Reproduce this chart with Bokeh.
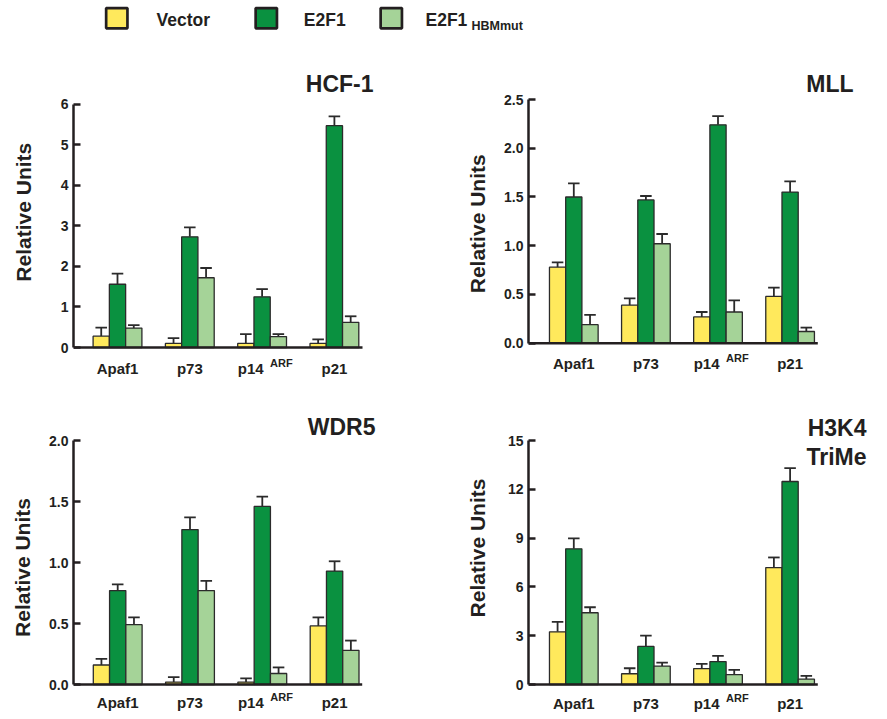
import math
import numpy as np
from bokeh.plotting import figure
from bokeh.models import Range1d, FixedTicker, NumeralTickFormatter, ColumnDataSource, LinearAxis
from bokeh.layouts import column, row
from bokeh.embed import file_html
from bokeh.resources import INLINE
from bokeh.core.properties import value

# ---------------- data ----------------
genes = ["Apaf1", "p73", "p14", "p21"]
gene_sup = ["", "", "ARF", ""]
series = ["Vector", "E2F1", "E2F1"]
series_sub = ["", "", "HBMmut"]

hcf_vector = [0.28, 0.10, 0.10, 0.10]
hcf_vector_err = [0.21, 0.13, 0.23, 0.10]
hcf_e2f1 = [1.56, 2.73, 1.25, 5.47]
hcf_e2f1_err = [0.26, 0.23, 0.19, 0.23]
hcf_mut = [0.48, 1.72, 0.27, 0.62]
hcf_mut_err = [0.07, 0.24, 0.06, 0.15]
hcf_ticks = [0, 1, 2, 3, 4, 5, 6]

mll_vector = [0.78, 0.39, 0.27, 0.48]
mll_vector_err = [0.05, 0.07, 0.05, 0.09]
mll_e2f1 = [1.50, 1.47, 2.24, 1.55]
mll_e2f1_err = [0.14, 0.04, 0.09, 0.11]
mll_mut = [0.19, 1.02, 0.32, 0.12]
mll_mut_err = [0.10, 0.10, 0.12, 0.04]
mll_ticks = [0.0, 0.5, 1.0, 1.5, 2.0, 2.5]

wdr_vector = [0.16, 0.02, 0.02, 0.48]
wdr_vector_err = [0.05, 0.04, 0.03, 0.07]
wdr_e2f1 = [0.77, 1.27, 1.46, 0.93]
wdr_e2f1_err = [0.05, 0.10, 0.08, 0.08]
wdr_mut = [0.49, 0.77, 0.09, 0.28]
wdr_mut_err = [0.06, 0.08, 0.05, 0.08]
wdr_ticks = [0.0, 0.5, 1.0, 1.5, 2.0]

h3k4_vector = [3.24, 0.66, 0.98, 7.19]
h3k4_vector_err = [0.61, 0.34, 0.29, 0.62]
h3k4_e2f1 = [8.34, 2.34, 1.41, 12.48]
h3k4_e2f1_err = [0.64, 0.67, 0.35, 0.82]
h3k4_mut = [4.41, 1.13, 0.61, 0.33]
h3k4_mut_err = [0.34, 0.22, 0.29, 0.20]
h3k4_ticks = [0, 3, 6, 9, 12, 15]

# ---------------- style / layout ----------------
COLORS = ["#FFE95C", "#0A9140", "#A5D398"]
EDGE = "#2b2b2b"
TXT = "#231f20"
FONT = "Liberation Sans"
BAR_W = 0.225
CAP = 0.08
LEG_H = 40
ROW1 = (40, 350)   # top, height
ROW2 = (390, 328)
COL_LAB = [(0, 40), (448, 42)]      # left, width of y-label strips
COL_FIG = [(40, 408), (490, 397)]   # left, width of panel figures


def blank(left, top, w, h):
    f = figure(width=w, height=h, output_backend="svg", toolbar_location=None,
               x_range=Range1d(left, left + w), y_range=Range1d(top + h, top),
               x_axis_type=None, y_axis_type=None,
               min_border_left=0, min_border_right=0, min_border_top=0, min_border_bottom=0)
    f.outline_line_color = None
    f.background_fill_color = None
    f.border_fill_color = None
    return f


def ylabel_fig(left, top, w, h, lx, ly):
    f = blank(left, top, w, h)
    f.text(x=[lx], y=[ly], text=["Relative Units"], angle=math.pi / 2,
           text_align="center", text_baseline="middle", text_font=value(FONT),
           text_font_style="bold", text_font_size="21px", text_color=TXT)
    return f


def panel(col, rowg, geom, title_lines, title_dx, title_dy, vals, errs, ticks, fmt, cat_dy):
    fl, fw = COL_FIG[col]
    ft, fh = rowg
    ax_x, zero_y, top_y, c0, sp, ax_end = geom
    border = int(round(ax_x - fl))
    frame_left = fl + border
    ymax = ticks[-1]
    ppu = (zero_y - top_y) / ymax
    xr = Range1d((frame_left - c0) / sp, (fl + fw - c0) / sp)
    yr = Range1d(-(ft + fh - zero_y) / ppu, (zero_y - ft) / ppu)
    x_line_end = (ax_end - c0) / sp

    p = figure(width=fw, height=fh, output_backend="svg", toolbar_location=None,
               x_range=xr, y_range=yr, x_axis_type=None, y_axis_type=None,
               min_border_left=border, min_border_right=0,
               min_border_top=0, min_border_bottom=0)
    p.outline_line_color = None
    p.background_fill_color = None
    p.border_fill_color = None

    yax = LinearAxis(ticker=FixedTicker(ticks=ticks),
                     formatter=NumeralTickFormatter(format=fmt), bounds=(0, ymax))
    yax.major_tick_in = 7
    yax.major_tick_out = 0
    yax.major_tick_line_width = 2.5
    yax.major_tick_line_color = TXT
    yax.minor_tick_line_color = None
    yax.axis_line_width = 2.5
    yax.axis_line_color = TXT
    yax.major_label_standoff = 5
    yax.major_label_text_font = FONT
    yax.major_label_text_font_style = "bold"
    yax.major_label_text_font_size = "14px"
    yax.major_label_text_color = TXT
    p.add_layout(yax, "left")

    n = len(genes)
    base = np.arange(n)
    for k, (v, e) in enumerate(zip(vals, errs)):
        xs = base + (k - 1) * BAR_W
        top_v = np.array(v)
        hi = top_v + np.array(e)
        src = ColumnDataSource(dict(x=xs, top=top_v, hi=hi, xl=xs - CAP, xr=xs + CAP))
        p.segment(x0="x", y0="top", x1="x", y1="hi", source=src, line_color=EDGE, line_width=1.8)
        p.segment(x0="xl", y0="hi", x1="xr", y1="hi", source=src, line_color=EDGE, line_width=1.8)
        p.vbar(x="x", top="top", bottom=0, width=BAR_W, source=src,
               fill_color=COLORS[k], line_color=EDGE, line_width=1.3)

    # x baseline (category axis line)
    p.segment(x0=[xr.start], y0=[0], x1=[x_line_end], y1=[0], line_color=TXT, line_width=2.5)

    # category labels
    plain = [i for i, s in enumerate(gene_sup) if not s]
    sup = [i for i, s in enumerate(gene_sup) if s]
    p.text(x=plain, y=[0] * len(plain), text=[genes[i] for i in plain],
           text_align="center", text_baseline="middle", y_offset=cat_dy,
           text_font=value(FONT), text_font_style="bold", text_font_size="15px", text_color=TXT)
    p.text(x=sup, y=[0] * len(sup), text=[genes[i] for i in sup],
           text_align="right", text_baseline="middle", x_offset=1.5, y_offset=cat_dy,
           text_font=value(FONT), text_font_style="bold", text_font_size="15px", text_color=TXT)
    p.text(x=sup, y=[0] * len(sup), text=[gene_sup[i] for i in sup],
           text_align="left", text_baseline="middle", x_offset=8, y_offset=cat_dy - 5.3,
           text_font=value(FONT), text_font_style="bold", text_font_size="11px", text_color=TXT)

    # panel title
    p.text(x=[x_line_end] * len(title_lines), y=[ymax] * len(title_lines), text=title_lines,
           text_align="right", text_baseline="middle", x_offset=title_dx,
           y_offset=[title_dy + 28.7 * j for j in range(len(title_lines))],
           text_font=value(FONT), text_font_style="bold", text_font_size="23px", text_color=TXT)
    return p


# geometry: axis x, zero y, top-tick y, first group centre x, group spacing, axis end x
p1 = panel(0, ROW1, (73, 347, 103.7, 117, 72.3, 362), ["HCF-1"], 11, -20,
           [hcf_vector, hcf_e2f1, hcf_mut], [hcf_vector_err, hcf_e2f1_err, hcf_mut_err],
           hcf_ticks, "0", 20.5)
p2 = panel(1, ROW1, (528.3, 342.7, 99, 573.3, 72.1, 817.3), ["MLL"], 35.7, -15.3,
           [mll_vector, mll_e2f1, mll_mut], [mll_vector_err, mll_e2f1_err, mll_mut_err],
           mll_ticks, "0.0", 19.8)
p3 = panel(0, ROW2, (73.3, 684, 440, 117.2, 72.3, 361.7), ["WDR5"], 13.3, -13.8,
           [wdr_vector, wdr_e2f1, wdr_mut], [wdr_vector_err, wdr_e2f1_err, wdr_mut_err],
           wdr_ticks, "0.0", 17.7)
p4 = panel(1, ROW2, (528.3, 684, 440, 573.3, 72.1, 817.3), ["H3K4", "TriMe"], 48.7, -12.5,
           [h3k4_vector, h3k4_e2f1, h3k4_mut], [h3k4_vector_err, h3k4_e2f1_err, h3k4_mut_err],
           h3k4_ticks, "0", 19.2)

l1 = ylabel_fig(COL_LAB[0][0], ROW1[0], COL_LAB[0][1], ROW1[1], 22.7, 211.7)
l2 = ylabel_fig(COL_LAB[1][0], ROW1[0], COL_LAB[1][1], ROW1[1], 477.2, 223.3)
l3 = ylabel_fig(COL_LAB[0][0], ROW2[0], COL_LAB[0][1], ROW2[1], 22.3, 567)
l4 = ylabel_fig(COL_LAB[1][0], ROW2[0], COL_LAB[1][1], ROW2[1], 477.2, 547.5)

# ---------------- legend ----------------
leg_sq_x = [116.3, 265.8, 390.8]
leg_txt_x = [156, 303.3, 425]
leg_sub_x = [0, 0, 471]
leg = blank(0, 0, 887, LEG_H)
leg.rect(x=leg_sq_x, y=[17.7] * 3, width=21.3, height=20.3, fill_color=COLORS,
         line_color=TXT, line_width=2.7)
leg.text(x=leg_txt_x, y=[19.7] * 3, text=series, text_font=value(FONT),
         text_font_style="bold", text_font_size="17.5px", text_color=TXT,
         text_baseline="middle", text_align="left")
sub_idx = [i for i, s in enumerate(series_sub) if s]
leg.text(x=[leg_sub_x[i] for i in sub_idx], y=[25] * len(sub_idx),
         text=[series_sub[i] for i in sub_idx], text_font=value(FONT),
         text_font_style="bold", text_font_size="12.5px", text_color=TXT,
         text_baseline="middle", text_align="left")

layout = column(leg, row(l1, p1, l2, p2), row(l3, p3, l4, p4))
open("out.html", "w").write(file_html(layout, INLINE))
